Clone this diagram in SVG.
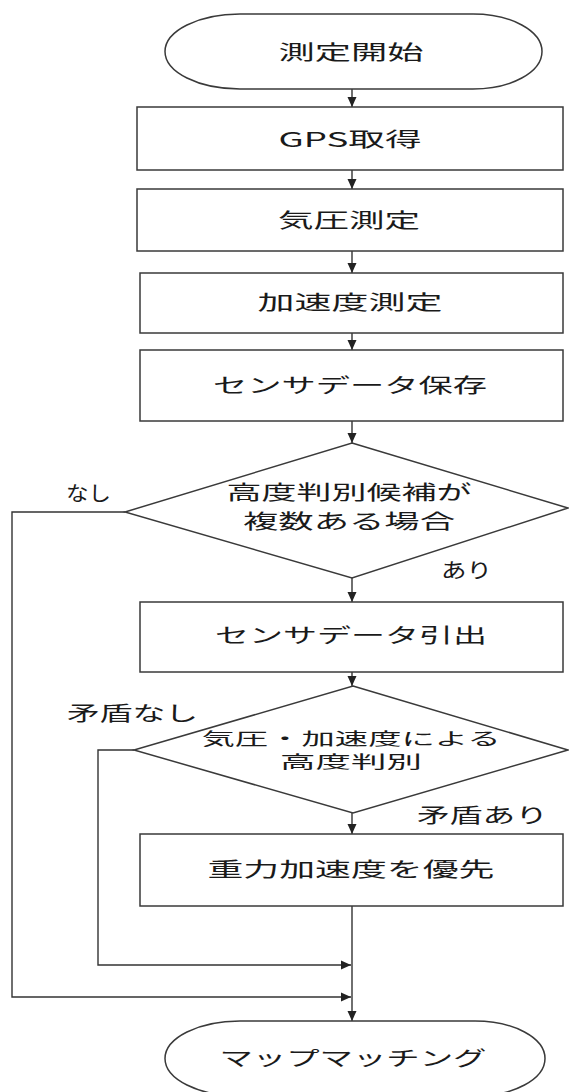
<svg xmlns="http://www.w3.org/2000/svg" width="569" height="1092" viewBox="0 0 569 1092">
<defs>
<marker id="ah" markerWidth="12" markerHeight="12" refX="10" refY="5" orient="auto" markerUnits="userSpaceOnUse">
<path d="M0,0.5 L10,5 L0,9.5 Z" fill="#222"/>
</marker>
<style>
.shape{fill:#fff;stroke:#3a3a3a;stroke-width:1.5}
.con{fill:none;stroke:#333;stroke-width:1.4}
.t{font-family:"Noto Sans CJK JP","Noto Sans CJK SC",sans-serif;font-size:20px;fill:#1a1a1a;text-anchor:middle}
.s{font-size:17px}
.l{font-family:"Noto Sans CJK JP","Noto Sans CJK SC",sans-serif;font-size:20px;fill:#1a1a1a}
</style>
</defs>
<rect width="569" height="1092" fill="#fff"/>
<g id="connectors">
<line class="con" x1="352" y1="89" x2="352" y2="107" marker-end="url(#ah)"/>
<line class="con" x1="352" y1="170" x2="352" y2="189" marker-end="url(#ah)"/>
<line class="con" x1="352" y1="251" x2="352" y2="273" marker-end="url(#ah)"/>
<line class="con" x1="352" y1="333" x2="352" y2="350" marker-end="url(#ah)"/>
<line class="con" x1="352" y1="421" x2="352" y2="443" marker-end="url(#ah)"/>
<line class="con" x1="352" y1="578" x2="352" y2="602" marker-end="url(#ah)"/>
<line class="con" x1="352" y1="672" x2="352" y2="686" marker-end="url(#ah)"/>
<line class="con" x1="352" y1="813" x2="352" y2="834" marker-end="url(#ah)"/>
<line class="con" x1="352" y1="906" x2="352" y2="1021" marker-end="url(#ah)"/>
<polyline class="con" points="125,512 12,512 12,997 351,997" marker-end="url(#ah)"/>
<polyline class="con" points="134,750 98,750 98,965 351,965" marker-end="url(#ah)"/>
<text class="l" x="66" y="501" textLength="45" lengthAdjust="spacingAndGlyphs">なし</text>
<text class="l" x="441" y="578" textLength="51" lengthAdjust="spacingAndGlyphs">あり</text>
<text class="l" x="67" y="721" textLength="131" lengthAdjust="spacingAndGlyphs">矛盾なし</text>
<text class="l" x="417" y="823" textLength="131" lengthAdjust="spacingAndGlyphs">矛盾あり</text>
</g>
<g id="start">
<path class="shape" d="M240,14 H473 A69,37.5 0 0 1 473,89 H240 A75,37.5 0 0 1 240,14 Z"/>
<text class="t" x="351" y="60" textLength="145" lengthAdjust="spacingAndGlyphs">測定開始</text>
</g>
<g id="gps">
<rect class="shape" x="137" y="107" width="426" height="63"/>
<text class="t" x="350" y="147" textLength="143" lengthAdjust="spacingAndGlyphs">GPS取得</text>
</g>
<g id="pressure">
<rect class="shape" x="137" y="189" width="426" height="62"/>
<text class="t" x="349" y="228" textLength="142" lengthAdjust="spacingAndGlyphs">気圧測定</text>
</g>
<g id="accel">
<rect class="shape" x="140" y="273" width="423" height="60"/>
<text class="t" x="350" y="310" textLength="185" lengthAdjust="spacingAndGlyphs">加速度測定</text>
</g>
<g id="save">
<rect class="shape" x="140" y="350" width="423" height="71"/>
<text class="t" x="350" y="393" textLength="274" lengthAdjust="spacingAndGlyphs">センサデータ保存</text>
</g>
<g id="decision1">
<polygon class="shape" points="352,443 568,508 352,578 125,512"/>
<text class="t" x="349" y="500" textLength="245" lengthAdjust="spacingAndGlyphs">高度判別候補が</text>
<text class="t" x="349" y="529" textLength="212" lengthAdjust="spacingAndGlyphs">複数ある場合</text>
</g>
<g id="extract">
<rect class="shape" x="140" y="602" width="423" height="70"/>
<text class="t" x="351" y="643" textLength="272" lengthAdjust="spacingAndGlyphs">センサデータ引出</text>
</g>
<g id="decision2">
<polygon class="shape" points="353,686 568,750 353,813 134,750"/>
<text class="t s" x="351" y="745" textLength="299" lengthAdjust="spacingAndGlyphs">気圧・加速度による</text>
<text class="t s" x="351" y="768" textLength="142" lengthAdjust="spacingAndGlyphs">高度判別</text>
</g>
<g id="gravity">
<rect class="shape" x="140" y="834" width="423" height="72"/>
<text class="t" x="351" y="877" textLength="287" lengthAdjust="spacingAndGlyphs">重力加速度を優先</text>
</g>
<g id="end">
<path class="shape" d="M240,1021 H475 A70,37.5 0 0 1 475,1096 H240 A75,37.5 0 0 1 240,1021 Z"/>
<text class="t" x="353" y="1066" textLength="267" lengthAdjust="spacingAndGlyphs">マップマッチング</text>
</g>
</svg>
